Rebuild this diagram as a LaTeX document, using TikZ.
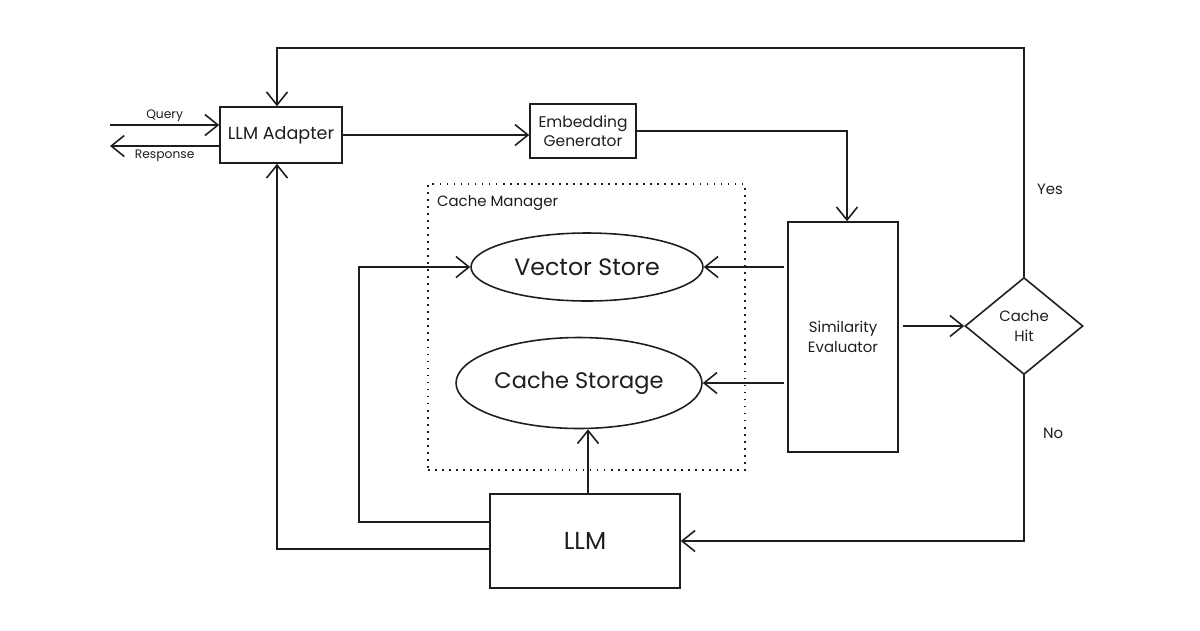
\documentclass[tikz,border=0pt]{standalone}
\usepackage{fontspec}
\setmainfont{Poppins}
\usepackage{xcolor}
\usepackage{tikz}
\usetikzlibrary{shapes.geometric, arrows.meta}
\definecolor{InkBlack}{RGB}{30, 30, 30}
\definecolor{PaperWhite}{RGB}{255, 255, 255}

\begin{document}
\begin{tikzpicture}[x=0.02cm, y=-0.02cm,
    every node/.style={text=InkBlack},
    box/.style={draw=InkBlack, line width=0.9pt, fill=PaperWhite, align=center, inner sep=2pt},
    blob/.style={draw=InkBlack, line width=0.9pt, ellipse, inner sep=0pt},
    arr/.style={-{Straight Barb[length=2.6mm, width=4.2mm]}, line width=0.9pt, draw=InkBlack},
    tag/.style={font=\fontsize{7}{8}\selectfont, inner sep=1.5pt}]
            \useasboundingbox[fill=PaperWhite] (0,0) rectangle (1200,630);

            % Cache Manager
            \node[draw=InkBlack, dash pattern=on 1pt off 3pt, line width=0.8pt, minimum width=6.34cm, minimum height=5.72cm] (manager) at (586.5,327) {};
            \node[anchor=north west, font=\fontsize{8.5}{9}\selectfont, inner sep=1pt] (managerlabel) at (435,193) {Cache Manager};
            \node[blob, minimum width=4.64cm, minimum height=1.36cm, font=\fontsize{13.5}{15}\selectfont] (vstore) at (587,267) {Vector Store};
            \node[blob, minimum width=4.92cm, minimum height=1.82cm, font=\fontsize{12.8}{15}\selectfont] (cstore) at (579,383) {Cache Storage};

            % Adapter
            \node[box, minimum width=2.44cm, minimum height=1.12cm, font=\fontsize{10}{12}\selectfont] (adapter) at (281,135) {LLM Adapter};
            % Embedding
            \node[box, minimum width=2.12cm, minimum height=1.08cm, font=\fontsize{8.8}{11}\selectfont] (embed) at (583,131) {Embedding\\Generator};
            % Similarity
            \node[box, minimum width=2.2cm, minimum height=4.6cm, font=\fontsize{8.5}{11}\selectfont] (simeval) at (843,337) {Similarity\\Evaluator};
            % Decision
            \node[draw=InkBlack, line width=0.9pt, diamond, aspect=1.2, inner sep=0pt, minimum width=2.36cm, minimum height=1.94cm, align=center, font=\fontsize{8.5}{11}\selectfont] (hit) at (1024,326) {Cache\\Hit};
            % LLM
            \node[box, minimum width=3.8cm, minimum height=1.88cm, font=\fontsize{14}{16}\selectfont] (llm) at (585,541) {LLM};

            % Free ends and bends
            \coordinate (qin) at (110,125);
            \coordinate (rout) at (110,146);
            \coordinate (yestop) at (1021,48);
            \coordinate (leftA) at (359,267);

            % Arrows
            \draw[arr] (qin) -- (qin -| adapter.west) node[tag, midway, above] {Query};
            \draw[arr] (rout -| adapter.west) -- (rout) node[tag, midway, below] {Response};
            \draw[arr] (adapter.east) -- (adapter.east -| embed.west);
            \draw[arr] (embed.east) -| ([xshift=0.08cm]simeval.north);
            \draw[arr] ([xshift=-0.06cm]simeval.west |- vstore) -- (vstore.east);
            \draw[arr] ([xshift=-0.06cm]simeval.west |- cstore) -- (cstore.east);
            \draw[arr, shorten <=0.08cm] (simeval.east |- hit) -- (hit.west);
            \draw[arr] (hit.north) -- (hit.north |- yestop) -| ([xshift=-0.08cm]adapter.north);
            \draw[arr] (hit.south) |- (llm.east);
            \draw[arr] ([xshift=0.06cm]llm.north) -- ([xshift=0.06cm]llm.north |- cstore.south);
            \draw[arr] ([yshift=0.38cm]llm.west) -| (leftA) -- (vstore.west);
            \draw[arr] ([yshift=-0.16cm]llm.west) -| ([xshift=-0.08cm]adapter.south);
            \node[font=\fontsize{8.5}{10}\selectfont, anchor=west] (yeslabel) at (1031,189) {Yes};
            \node[font=\fontsize{8.5}{10}\selectfont, anchor=west] (nolabel) at (1037,433) {No};
        \end{tikzpicture}
\end{document}
